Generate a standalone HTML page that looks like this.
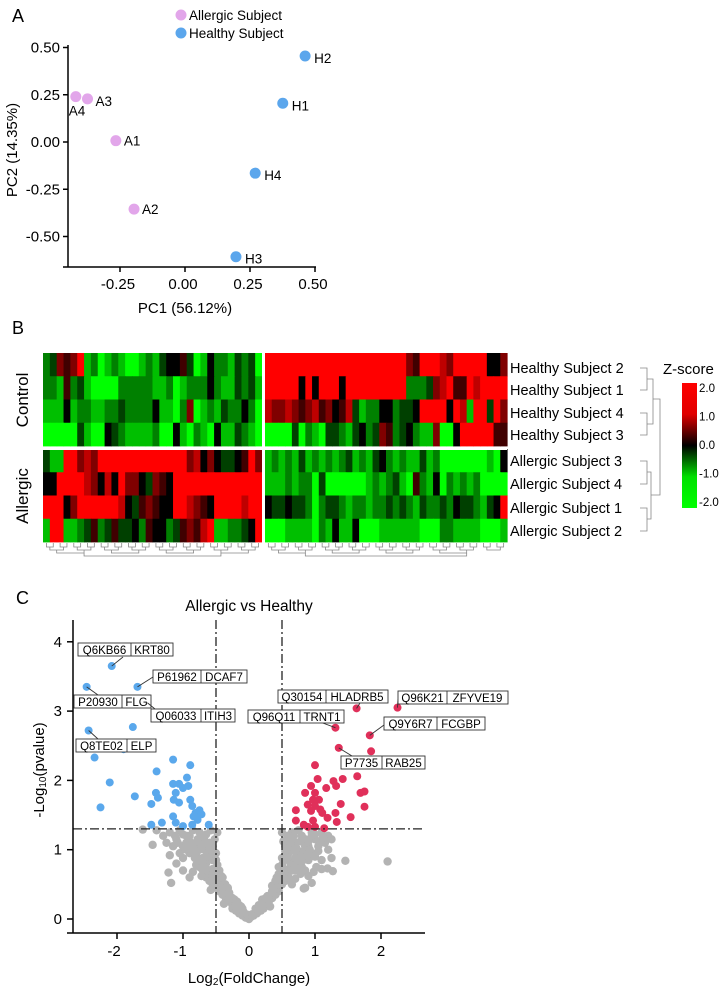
<!DOCTYPE html>
<html><head><meta charset="utf-8"><style>
html,body{margin:0;padding:0;background:#fff}
svg{display:block;font-family:"Liberation Sans",Arial,sans-serif}
</style></head><body>
<svg id="fig" width="723" height="990" viewBox="0 0 723 990" xmlns="http://www.w3.org/2000/svg">
<g id="pA"></g>
<g id="pB"></g>
<g id="pC"></g>
</svg>
<script>
// ---------- Panel A data ----------
const pcaLabels = ["A1","A2","A3","A4","H1","H2","H3","H4"];
const pcaX = [-0.266,-0.196,-0.375,-0.42,0.376,0.462,0.196,0.27];
const pcaY = [0.007,-0.355,0.228,0.24,0.205,0.455,-0.607,-0.165];
const pcaGroup = ["A","A","A","A","H","H","H","H"];
const pcaXTicks = [-0.25,0,0.25,0.5];
const pcaXTickLabels = ["-0.25","0.00","0.25","0.50"];
const pcaYTicks = [0.5,0.25,0,-0.25,-0.5];
const pcaYTickLabels = ["0.50","0.25","0.00","-0.25","-0.50"];

// ---------- Panel B data ----------
const hmRows = ["Healthy Subject 2","Healthy Subject 1","Healthy Subject 4","Healthy Subject 3","Allergic Subject 3","Allergic Subject 4","Allergic Subject 1","Allergic Subject 2"];
const hmLeft = [
"cdgfgibcabcbaabcbdeefdabeccbdcda",
"ccbfcdbaaaacccccbbcabcccecbbdcdb",
"bbbebccbbccdccccebbacgabcbdcceca",
"aaaaadbaaedcbbbbcaaebacbaebbdcba",
"dbbiighgiiiiiiiiiiiiighegeddefig",
"eeiiiihgeheiggedgfeiiiiiiiiiiiii",
"iiiegiiiiiihedfgfeeiihgfeiiiihii",
"biibbcdfcdfddecfeecdfgfhibbccdei"];
const hmRight = [
"iiiiiiiiiiiiiiiiiiiiigfiiihgiiiiieeg",
"iiiiieieiiieiiiiiiiiicccdghiffihiiii",
"hgghgfghfgefhdbcceecddeiiiieihbiidig",
"aaaadacbaddcbdecdgfcdecbbgaaeiiiiiff",
"bcbcbdbcbcbcdbcbdecbcbbdbcaaaaaaabae",
"bbbcbccadaaaaaabcbcdbafcbeacbcbcaaaa",
"eddeddcacddcbccbccdcdcbdccdceddcbdei",
"aaabbbbacbebbeaaabbbbbbaaaccbbbbaaab"];
const zTickLabels = ["2.0","1.0","0.0","-1.0","-2.0"];
const zTicks = [2,1,0,-1,-2];

// ---------- Panel C data ----------
const blueX = [-2.08,-1.69,-2.46,-1.54,-1.76,-2.43,-1.9,-1.57,-2.34,-1.15,-0.89,-1.4,-2.11,-2.25,-1.73,-1.48,-1.41,-1.38,-1.15,-1.06,-0.94,-0.92,-1.0,-1.11,-1.14,-1.06,-0.89,-0.86,-0.81,-0.75,-0.72,-0.78,-0.84,-1.15,-1.11,-0.86,-0.61,-1.32,-1.48,-1.0];
const blueY = [3.65,3.35,3.35,3.12,2.77,2.72,2.45,2.47,2.33,2.3,2.22,2.13,1.97,1.61,1.77,1.66,1.82,1.75,1.95,1.95,2.04,1.92,1.89,1.82,1.72,1.68,1.72,1.63,1.53,1.57,1.51,1.43,1.48,1.48,1.39,1.36,1.36,1.39,1.36,1.34];
const redX = [1.63,2.25,1.31,1.83,1.36,1.85,1.0,1.64,1.42,1.28,1.32,1.04,1.17,0.94,0.85,1.0,0.97,1.06,0.89,1.0,1.08,0.94,1.11,0.71,1.69,1.75,1.75,1.39,1.31,1.19,1.54,1.33,0.71,0.83,0.97,1.0,1.14,0.89];
const redY = [3.04,3.05,2.76,2.65,2.47,2.42,2.22,2.06,2.02,1.99,1.92,2.02,1.89,1.92,1.82,1.82,1.72,1.72,1.65,1.63,1.58,1.56,1.53,1.57,1.82,1.84,1.62,1.66,1.53,1.46,1.47,1.4,1.42,1.36,1.42,1.33,1.31,1.33];
const grayX = [2.1,1.46,1.27,1.25,1.19,-1.18,-1.22,-1.46,-1.61,0.83,
-0.05,-0.1,-0.15,-0.2,-0.08,0.03,0.07,0.12,0.18,0.22,-0.25,0.0,
-0.25,-0.3,-0.35,-0.4,-0.3,-0.45,-0.22,0.25,0.3,0.35,0.4,0.45,0.28,0.38,-0.38,0.32,
-0.5,-0.55,-0.45,-0.6,-0.4,-0.65,-0.5,0.45,0.5,0.55,0.6,0.42,0.65,0.5,0.7,-0.58,
-0.6,-0.7,-0.75,-0.55,-0.65,-0.8,-0.5,0.55,0.6,0.65,0.7,0.75,0.8,0.5,0.85,0.62,-0.72,0.9,0.95,0.85,0.78,-0.85,
-0.55,-0.6,-0.7,-0.8,-0.9,-0.65,-0.75,-1.0,-0.95,-0.5,-1.05,-1.2,0.55,0.6,0.7,0.8,0.9,0.95,1.0,0.65,0.75,0.85,1.05,1.1,0.5,
-0.55,-0.6,-0.7,-0.8,-0.9,-1.0,-1.1,-1.2,-0.65,-0.75,-0.85,-0.95,-1.05,-1.3,-1.4,-0.58,-1.15,0.55,0.6,0.65,0.7,0.8,0.9,1.0,1.1,0.75,0.85,0.95,1.05,1.15,1.2,0.58,0.68,1.2,
-0.12,-0.18,0.15,0.2,-0.32,0.35,-0.42,0.45,-0.48,0.48,-0.02,0.05,-0.28,0.27,-0.36,0.4,-0.62,0.58,-0.68,0.72,
-0.1,-0.15,-0.2,-0.25,-0.3,-0.35,-0.4,-0.45,-0.5,-0.55,-0.6,-0.65,-0.7,-0.75,-0.8,-0.85,-0.9,-0.95,-1.0,
-0.4,-0.45,-0.5,-0.55,-0.6,-0.62,-0.68,-0.72,-0.78,-0.82,-0.88,-0.92,-1.08,-1.12,-1.25,-0.52,-0.48,
0.1,0.15,0.2,0.25,0.3,0.35,0.4,0.45,0.5,0.55,0.6,0.65,0.7,0.75,0.8,0.85,0.9,0.95,1.0,
0.42,0.45,0.52,0.55,0.6,0.62,0.68,0.72,0.78,0.82,0.88,0.92,1.08,1.12,1.25,0.52,0.5,1.02,0.98,1.1,-1.1,-1.0,-0.9];
const grayY = [0.83,0.84,0.69,0.88,0.73,0.52,0.67,1.07,1.29,0.44,
0.02,0.05,0.08,0.12,0.1,0.03,0.05,0.08,0.12,0.15,0.15,0.0,
0.2,0.25,0.3,0.35,0.38,0.4,0.28,0.2,0.25,0.3,0.35,0.4,0.33,0.42,0.22,0.18,
0.45,0.5,0.55,0.55,0.5,0.6,0.6,0.45,0.5,0.55,0.6,0.55,0.5,0.62,0.58,0.42,
0.65,0.7,0.75,0.72,0.8,0.78,0.68,0.68,0.72,0.75,0.7,0.8,0.75,0.78,0.7,0.82,0.62,0.62,0.52,0.45,0.65,0.68,
0.85,0.9,0.88,0.92,0.95,0.98,1.0,0.88,1.0,0.95,0.95,0.92,0.9,0.95,0.88,0.9,0.85,0.95,0.9,1.0,0.98,1.0,0.98,0.85,0.88,
1.05,1.1,1.15,1.1,1.2,1.05,1.15,1.25,1.22,1.25,1.28,1.1,1.28,1.2,1.28,1.28,1.05,1.05,1.15,1.25,1.1,1.2,1.05,1.15,1.25,1.28,1.15,1.25,1.05,1.1,1.2,1.2,1.02,1.0,
0.18,0.25,0.18,0.28,0.45,0.48,0.62,0.65,0.78,0.72,0.06,0.07,0.32,0.3,0.5,0.55,0.9,0.88,1.0,0.95,
0.15,0.2,0.22,0.3,0.32,0.4,0.45,0.5,0.55,0.62,0.7,0.72,0.8,0.85,0.95,1.05,1.12,1.2,1.22,
0.6,0.7,0.85,0.95,1.0,1.08,1.18,1.05,1.15,0.88,0.98,1.02,1.1,1.2,1.1,1.15,1.25,
0.15,0.2,0.22,0.3,0.32,0.4,0.45,0.5,0.55,0.62,0.68,0.7,0.78,0.85,0.95,1.05,1.12,1.2,1.22,
0.6,0.75,0.85,0.98,1.05,1.1,1.2,1.02,1.12,0.85,0.92,1.0,1.12,1.18,1.15,1.12,1.25,0.75,0.68,0.72,0.8,0.7,0.6];
const volXTicks = [-2,-1,0,1,2];
const volYTicks = [0,1,2,3,4];
const volLabelIds = ["Q6KB66","P61962","P20930","Q06033","Q8TE02","Q30154","Q96K21","Q96Q11","Q9Y6R7","P7735"];
const volLabelNames = ["KRT80","DCAF7","FLG","ITIH3","ELP","HLADRB5","ZFYVE19","TRNT1","FCGBP","RAB25"];
const volLabelPointX = [-2.08,-1.69,-2.46,-1.54,-2.43,1.63,2.25,1.31,1.83,1.36];
const volLabelPointY = [3.65,3.35,3.35,3.12,2.72,3.04,3.05,2.76,2.65,2.47];

const NS="http://www.w3.org/2000/svg";
function mk(parent,tag,attrs,text){const e=document.createElementNS(NS,tag);for(const k in attrs)e.setAttribute(k,attrs[k]);if(text!==undefined)e.textContent=text;parent.appendChild(e);return e;}

// ===== Panel A =====
(function(){
const g=document.getElementById('pA');
const sx=v=>185+260*v, sy=v=>142-189*v;
let t=mk(g,'text',{x:12,y:22,'font-size':18},'A');


let ax=mk(g,'line',{x1:68,y1:45,x2:68,y2:267,stroke:'#000','stroke-width':1.5});


let axx=mk(g,'line',{x1:63,y1:267,x2:316,y2:267,stroke:'#000','stroke-width':1.5});


pcaYTicks.forEach((v,i)=>{
  mk(g,'line',{x1:63,y1:sy(v),x2:68,y2:sy(v),stroke:'#000','stroke-width':1.5});
  const l=mk(g,'text',{x:60,y:sy(v)+5,'font-size':15,'text-anchor':'end'},pcaYTickLabels[i]);
  
  
});
pcaXTicks.forEach((v,i)=>{
  mk(g,'line',{x1:sx(v),y1:267,x2:sx(v),y2:272,stroke:'#000','stroke-width':1.5});
  const l=mk(g,'text',{x:sx(v)-2,y:289,'font-size':15,'text-anchor':'middle'},pcaXTickLabels[i]);
  
  
});
let xt=mk(g,'text',{x:185,y:313,'font-size':15,'text-anchor':'middle'},'PC1 (56.12%)');


let yt=mk(g,'text',{x:0,y:0,'font-size':15,'text-anchor':'middle',transform:'translate(17,150) rotate(-90)'},'PC2 (14.35%)');


const col={A:'#e2a6ea',H:'#5ba6ec'};
pcaX.forEach((v,i)=>{
  const c=mk(g,'circle',{cx:sx(v),cy:sy(pcaY[i]),r:5.5,fill:col[pcaGroup[i]]});
  
  
  let lx=sx(v)+8, ly=sy(pcaY[i])+5;
  if(pcaLabels[i]==='A4'){lx=sx(v)-7;ly=sy(pcaY[i])+19;}
  else if(pcaLabels[i]==='A3'){lx=sx(v)+8;ly=sy(pcaY[i])+7;}
  else if(pcaLabels[i][0]==='H'){lx=sx(v)+9;ly=sy(pcaY[i])+7;}
  const l=mk(g,'text',{x:lx,y:ly,'font-size':13.5},pcaLabels[i]);
  
  
});
[['Allergic Subject','A',15],['Healthy Subject','H',33]].forEach(a=>{
  const c=mk(g,'circle',{cx:181,cy:a[2],r:5.5,fill:col[a[1]]});
  
  
  const l=mk(g,'text',{x:189,y:a[2]+5,'font-size':13.5},a[0]);
  
  
});
})();

// ===== Panel B =====
(function(){
const g=document.getElementById('pB');
function zcol(z){
  const t=Math.max(-1,Math.min(1,z/2));
  if(t>=0) return 'rgb('+Math.round(255*t)+',0,0)';
  return 'rgb(0,'+Math.round(255*(-t))+',0)';
}
const charZ=ch=>(ch.charCodeAt(0)-97)*0.5-2;
let t=mk(g,'text',{x:12,y:334,'font-size':18},'B');


const top=353, rowH=(542-353-3)/8, L0=43, L1=262, R0=265, R1=507;
function rowY(r){return top+r*rowH+(r>=4?3:0);}
[[hmLeft,L0,L1],[hmRight,R0,R1]].forEach(([data,x0,x1])=>{
  data.forEach((row,r)=>{
    const n=row.length, w=(x1-x0)/n;
    for(let c=0;c<n;c++){
      const rc=mk(g,'rect',{x:x0+c*w,y:rowY(r),width:w+0.6,height:rowH+0.4,fill:zcol(charZ(row[c]))});
      
      
    }
  });
});
const dg=mk(g,'g',{stroke:'#888','stroke-width':0.8,fill:'none'});


[[hmLeft[0].length,L0,L1],[hmRight[0].length,R0,R1]].forEach(([n,x0,x1])=>{
  const w=(x1-x0)/n;
  for(let c=0;c+1<n;c+=2){const a=x0+c*w+w/2,b=a+w;mk(dg,'path',{d:`M${a} 543V547H${b}V543`});}
  for(let c=0;c+3<n;c+=4){const a=x0+c*w+w,b=a+2*w;mk(dg,'path',{d:`M${a} 547V550H${b}V547`});}
  for(let c=0;c+7<n;c+=8){const a=x0+c*w+2*w,b=a+4*w;mk(dg,'path',{d:`M${a} 550V553H${b}V550`});}
  mk(dg,'path',{d:`M${x0+6*w} 553V556H${x1-6*w}V553`});
});
const lblY=[368,390,413,435,461,484,508,531];
hmRows.forEach((s,i)=>{
  const l=mk(g,'text',{x:510,y:lblY[i]+5,'font-size':14.5},s);
  
  
});
const rd=mk(g,'g',{stroke:'#888','stroke-width':0.8,fill:'none'});


mk(rd,'path',{d:`M640 ${lblY[0]}H647V${lblY[1]}H640`});
mk(rd,'path',{d:`M640 ${lblY[2]}H647V${lblY[3]}H640`});
mk(rd,'path',{d:`M647 379H653V424H647`});
mk(rd,'path',{d:`M640 ${lblY[4]}H647V${lblY[5]}H640`});
mk(rd,'path',{d:`M640 ${lblY[6]}H647V${lblY[7]}H640`});
mk(rd,'path',{d:`M647 472H651V519H647`});
mk(rd,'path',{d:`M653 399H660V495H651`});
let yl1=mk(g,'text',{x:0,y:0,'font-size':17,'text-anchor':'middle',transform:'translate(28,400) rotate(-90)'},'Control');


let yl2=mk(g,'text',{x:0,y:0,'font-size':17,'text-anchor':'middle',transform:'translate(28,496) rotate(-90)'},'Allergic');


const defs=mk(g,'defs',{});
const lg=mk(defs,'linearGradient',{id:'zg',x1:0,y1:0,x2:0,y2:1});
mk(lg,'stop',{offset:'0','stop-color':'#ff0000'});
mk(lg,'stop',{offset:'0.25','stop-color':'#e00000'});
mk(lg,'stop',{offset:'0.5','stop-color':'#000000'});
mk(lg,'stop',{offset:'0.75','stop-color':'#00e000'});
mk(lg,'stop',{offset:'1','stop-color':'#00ff00'});
const cb=mk(g,'rect',{x:682,y:383,width:15,height:125,fill:'url(#zg)'});


let zt=mk(g,'text',{x:663,y:374,'font-size':15},'Z-score');


zTicks.forEach((v,i)=>{
  const y=445-v*28.5;
  const l=mk(g,'text',{x:699,y:y+4,'font-size':11.5},zTickLabels[i]);
  
  
});
mk(g,'rect',{x:262,y:352,width:3,height:191,fill:'#fff'});
mk(g,'rect',{x:43,y:447,width:464,height:3,fill:'#fff'});
})();

// ===== Panel C =====
(function(){
const g=document.getElementById('pC');
const sx=v=>249+66*v, sy=v=>919-69.3*v;
let t=mk(g,'text',{x:16,y:604,'font-size':18},'C');


let tt=mk(g,'text',{x:249,y:611,'font-size':15.5,'text-anchor':'middle'},'Allergic vs Healthy');


grayX.forEach((v,i)=>{
  const c=mk(g,'circle',{cx:sx(v),cy:sy(grayY[i]),r:4.2,fill:'#b3b3b3'});
  
  
});
blueX.forEach((v,i)=>{
  const c=mk(g,'circle',{cx:sx(v),cy:sy(blueY[i]),r:4,fill:'#5aa8ec'});
  
  
});
redX.forEach((v,i)=>{
  const c=mk(g,'circle',{cx:sx(v),cy:sy(redY[i]),r:4,fill:'#e0305a'});
  
  
});
const dash={stroke:'#222','stroke-width':1.3,'stroke-dasharray':'9,3,2,3',fill:'none'};
[-0.5,0.5].forEach(v=>{
  const l=mk(g,'line',Object.assign({x1:sx(v),y1:620,x2:sx(v),y2:933},dash));
  
  
});
const hl=mk(g,'line',Object.assign({x1:73,y1:sy(1.3),x2:425,y2:sy(1.3)},dash));


let ya=mk(g,'line',{x1:73,y1:620,x2:73,y2:933,stroke:'#000','stroke-width':1.5});


let xa=mk(g,'line',{x1:67,y1:933,x2:425,y2:933,stroke:'#000','stroke-width':1.5});


volYTicks.forEach(v=>{
  mk(g,'line',{x1:67,y1:sy(v),x2:73,y2:sy(v),stroke:'#000','stroke-width':1.5});
  const l=mk(g,'text',{x:62,y:sy(v)+5,'font-size':15,'text-anchor':'end'},String(v));
  
  
});
volXTicks.forEach(v=>{
  mk(g,'line',{x1:sx(v),y1:933,x2:sx(v),y2:939,stroke:'#000','stroke-width':1.5});
  const l=mk(g,'text',{x:sx(v)-(v<0?3:0),y:956,'font-size':15,'text-anchor':'middle'},v<0?'-'+(-v):String(v));
  
  
});
let xt=mk(g,'text',{x:249,y:983,'font-size':15,'text-anchor':'middle'});
xt.innerHTML='Log<tspan font-size="10" dy="2">2</tspan><tspan dy="-2">(FoldChange)</tspan>';


let yt=mk(g,'text',{x:0,y:0,'font-size':15,'text-anchor':'middle',transform:'translate(44,770) rotate(-90)'});
yt.innerHTML='-Log<tspan font-size="10" dy="2">10</tspan><tspan dy="-2">(pvalue)</tspan>';


const boxes=[[78,131,173,643],[153,201,247,670],[74,122,151,695],[151,201,235,709],[76,127,156,739],[278,326,388,690],[398,447,508,691],[248,300,344,710],[384,437,485,717],[341,382,425,756]];
const ends=[[123,657],[153,677],[98,695],[155,709],[98,739],[360,703],[398,699],[320,722],[384,725],[352,756]];
volLabelIds.forEach((id,i)=>{
  const [x0,xd,x1,y0]=boxes[i];
  mk(g,'line',{x1:sx(volLabelPointX[i]),y1:sy(volLabelPointY[i]),x2:ends[i][0],y2:ends[i][1],stroke:'#333','stroke-width':0.9});
  const bg=mk(g,'g',{});
  
  
  mk(bg,'rect',{x:x0,y:y0,width:x1-x0,height:13,fill:'#fff',stroke:'#333','stroke-width':0.9});
  mk(bg,'line',{x1:xd,y1:y0,x2:xd,y2:y0+13,stroke:'#333','stroke-width':0.9});
  mk(bg,'text',{x:(x0+xd)/2,y:y0+11,'font-size':11.5,'text-anchor':'middle'},id);
  mk(bg,'text',{x:(xd+x1)/2,y:y0+11,'font-size':11.5,'text-anchor':'middle'},volLabelNames[i]);
});
})();
</script>
</body></html>
